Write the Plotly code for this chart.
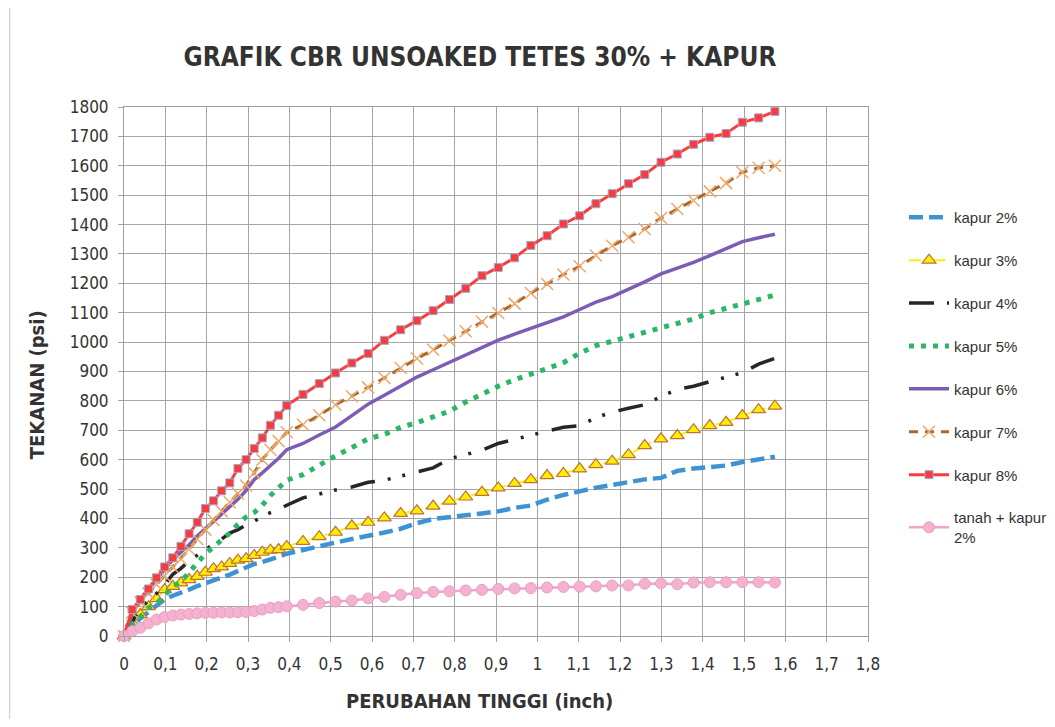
import plotly.graph_objects as go

# Penetration readings (inch) — 0.5 mm steps up to 10 mm, then 1 mm steps to 40 mm
x_inch = [0.0, 0.0197, 0.0394, 0.0591, 0.0787, 0.0984, 0.1181, 0.1378, 0.1575, 0.1772,
          0.1969, 0.2165, 0.2362, 0.2559, 0.2756, 0.2953, 0.3150, 0.3346, 0.3543, 0.3740,
          0.3937, 0.4331, 0.4724, 0.5118, 0.5512, 0.5906, 0.6299, 0.6693, 0.7087, 0.7480,
          0.7874, 0.8268, 0.8661, 0.9055, 0.9449, 0.9843, 1.0236, 1.0630, 1.1024, 1.1417,
          1.1811, 1.2205, 1.2598, 1.2992, 1.3386, 1.3780, 1.4173, 1.4567, 1.4961, 1.5354,
          1.5748]

kapur_2 = [0, 35, 60, 82, 107, 125, 137, 146, 158, 170, 181, 191, 199, 209, 220, 235, 245, 252, 260, 270, 280,
           294, 306, 318, 330, 340, 352, 365, 384, 398, 406, 411, 417, 424, 436, 444, 464, 480, 492, 505,
           514, 525, 533, 538, 562, 570, 575, 580, 592, 600, 610]
kapur_3 = [0, 45, 73, 100, 127, 158, 169, 181, 192, 203, 217, 229, 235, 247, 258, 263, 274, 285, 292, 294, 305,
           322, 338, 353, 375, 387, 402, 417, 426, 442, 459, 473, 489, 504, 519, 532, 546, 553, 569, 583,
           595, 617, 648, 671, 682, 702, 716, 727, 750, 770, 782]
kapur_4 = [0, 50, 95, 120, 145, 175, 210, 230, 255, 275, 295, 312, 330, 350, 362, 378, 390, 408, 420, 430, 445,
           470, 483, 497, 507, 523, 530, 543, 557, 572, 603, 616, 632, 655, 670, 684, 697, 710, 716, 743,
           762, 775, 787, 815, 839, 850, 866, 880, 896, 925, 945]
kapur_5 = [0, 40, 65, 96, 110, 140, 168, 185, 215, 250, 280, 303, 326, 350, 380, 405, 420, 445, 478, 505, 530,
           549, 583, 613, 641, 671, 686, 710, 726, 747, 765, 796, 825, 850, 872, 893, 910, 930, 962, 988,
           1003, 1018, 1033, 1048, 1063, 1079, 1100, 1116, 1130, 1145, 1160]
kapur_6 = [0, 75, 125, 158, 195, 225, 260, 285, 310, 340, 365, 392, 415, 440, 465, 495, 532, 555, 580, 605, 634,
           655, 684, 711, 750, 789, 819, 851, 881, 906, 931, 957, 982, 1007, 1027, 1047, 1067, 1086, 1111, 1136,
           1155, 1179, 1205, 1232, 1251, 1271, 1294, 1318, 1342, 1355, 1367]
kapur_7 = [0, 80, 115, 145, 175, 205, 235, 262, 295, 330, 362, 395, 425, 455, 485, 512, 555, 600, 634, 663, 693,
           719, 751, 787, 816, 846, 878, 912, 944, 974, 1005, 1037, 1069, 1099, 1131, 1167, 1198, 1230, 1258, 1295,
           1328, 1357, 1385, 1422, 1453, 1482, 1513, 1541, 1578, 1593, 1600]
kapur_8 = [0, 90, 124, 160, 198, 235, 266, 305, 348, 387, 434, 460, 494, 521, 570, 600, 638, 674, 717, 751, 784,
           822, 859, 895, 929, 961, 1006, 1042, 1073, 1107, 1145, 1183, 1226, 1254, 1287, 1329, 1362, 1402, 1430, 1471,
           1505, 1539, 1570, 1612, 1640, 1673, 1697, 1710, 1748, 1763, 1785]
tanah_kapur_2 = [0, 16, 28, 43, 56, 65, 70, 73, 75, 77, 79, 79, 80, 80, 81, 82, 85, 90, 96, 98, 101,
                 106, 112, 117, 121, 128, 133, 140, 146, 150, 152, 155, 157, 160, 162, 163, 165, 167, 168, 169,
                 172, 172, 178, 179, 176, 182, 183, 183, 183, 183, 182]

series_names = ["kapur 2%", "kapur 3%", "kapur 4%", "kapur 5%", "kapur 6%", "kapur 7%", "kapur 8%",
                "tanah + kapur<br>2%"]

x_tick_vals = [0, 0.1, 0.2, 0.3, 0.4, 0.5, 0.6, 0.7, 0.8, 0.9, 1.0, 1.1, 1.2, 1.3, 1.4, 1.5, 1.6, 1.7, 1.8]
x_tick_text = ["0", "0,1", "0,2", "0,3", "0,4", "0,5", "0,6", "0,7", "0,8", "0,9", "1",
               "1,1", "1,2", "1,3", "1,4", "1,5", "1,6", "1,7", "1,8"]
y_tick_vals = list(range(0, 1801, 100))

NARROW = "DejaVu Sans Condensed, Liberation Sans Narrow, Arial Narrow, sans-serif"
REG = "Liberation Sans, Arial, sans-serif"

styles = [
    dict(line=dict(color="#3e93d4", width=4.5, dash="14px,6px"), mode="lines", marker=None),
    dict(line=dict(color="#f5f200", width=2, dash="12px,4px,4px,4px"), mode="lines+markers",
         marker=dict(symbol="triangle-up", size=12, color="#ffee00", line=dict(color="#c0703a", width=1.2))),
    dict(line=dict(color="#262626", width=3.5, dash="25px,13px,3px,12px,3px,14px"), mode="lines", marker=None),
    dict(line=dict(color="#2bb866", width=5, dash="5px,7px"), mode="lines", marker=None),
    dict(line=dict(color="#7c5cb4", width=3.5), mode="lines", marker=None),
    dict(line=dict(color="#a8682e", width=3, dash="9px,7px"), mode="lines+markers",
         marker=dict(symbol="x-thin-open", size=12, color="#f0a868", line=dict(color="#f0a868", width=1.5))),
    dict(line=dict(color="#ff3a3a", width=3), mode="lines+markers",
         marker=dict(symbol="square", size=8, color="#f83c3c", line=dict(color="#9aaad0", width=1))),
    dict(line=dict(color="#f3a4c6", width=2.5), mode="lines+markers",
         marker=dict(symbol="circle", size=11, color="#f5b2d0", line=dict(color="#e8a0c0", width=1))),
]

all_y = [kapur_2, kapur_3, kapur_4, kapur_5, kapur_6, kapur_7, kapur_8, tanah_kapur_2]

fig = go.Figure()
for name, ys, st in zip(series_names, all_y, styles):
    kw = dict(x=x_inch, y=ys, name=name, mode=st["mode"], line=st["line"], cliponaxis=False,
              legendgroup=name)
    if st["marker"] is not None:
        kw["marker"] = st["marker"]
    fig.add_trace(go.Scatter(**kw))

axis_common = dict(showgrid=True, gridcolor="#a6a6a6", gridwidth=1, showline=True, linecolor="#a0a0a0",
                   linewidth=1, mirror=True, ticks="outside", ticklen=5, tickcolor="#a0a0a0",
                   zeroline=False, tickfont=dict(family=NARROW, size=17, color="#333333"))

W, H = 1039, 711  # page body has an 8px margin
fig.update_layout(
    width=W, height=H,
    margin=dict(l=116, r=179, t=99, b=83, autoexpand=False),
    paper_bgcolor="white", plot_bgcolor="white",
    title=dict(text="<b>GRAFIK CBR UNSOAKED TETES 30% + KAPUR</b>", x=472 / W, xanchor="center",
               xref="container", y=1 - 49 / H, yanchor="middle", yref="container",
               font=dict(family=NARROW, size=26, color="#333333")),
    xaxis=dict(range=[0, 1.8], tickvals=x_tick_vals, ticktext=x_tick_text, ticklabelstandoff=8, **axis_common),
    yaxis=dict(range=[0, 1800], tickvals=y_tick_vals, ticklabelstandoff=6, **axis_common),
    legend=dict(x=896 / W, xref="container", xanchor="left", y=1 - 193 / H, yref="container",
                yanchor="top", traceorder="grouped", tracegroupgap=20.4, itemwidth=40,
                font=dict(family=REG, size=15, color="#333333"), bgcolor="rgba(0,0,0,0)"),
    showlegend=True,
    annotations=[
        dict(text="<b>TEKANAN (psi)</b>", x=(37 - 124.3) / 744, y=(636.5 - 385) / 529.2, xref="paper",
             yref="paper", textangle=-90, showarrow=False, xanchor="center", yanchor="middle",
             font=dict(family=NARROW, size=20, color="#333333")),
        dict(text="<b>PERUBAHAN TINGGI (inch)</b>", x=(479.5 - 124.3) / 744, y=(636.5 - 702) / 529.2,
             xref="paper", yref="paper", showarrow=False, xanchor="center", yanchor="middle",
             font=dict(family=NARROW, size=20, color="#333333")),
    ],
    shapes=[dict(type="line", xref="paper", yref="paper", x0=(10 - 124.3) / 744, x1=(10 - 124.3) / 744,
                 y0=-0.3, y1=1.3, line=dict(color="#c8c8c8", width=1))],
)

fig.write_html("out.html")
